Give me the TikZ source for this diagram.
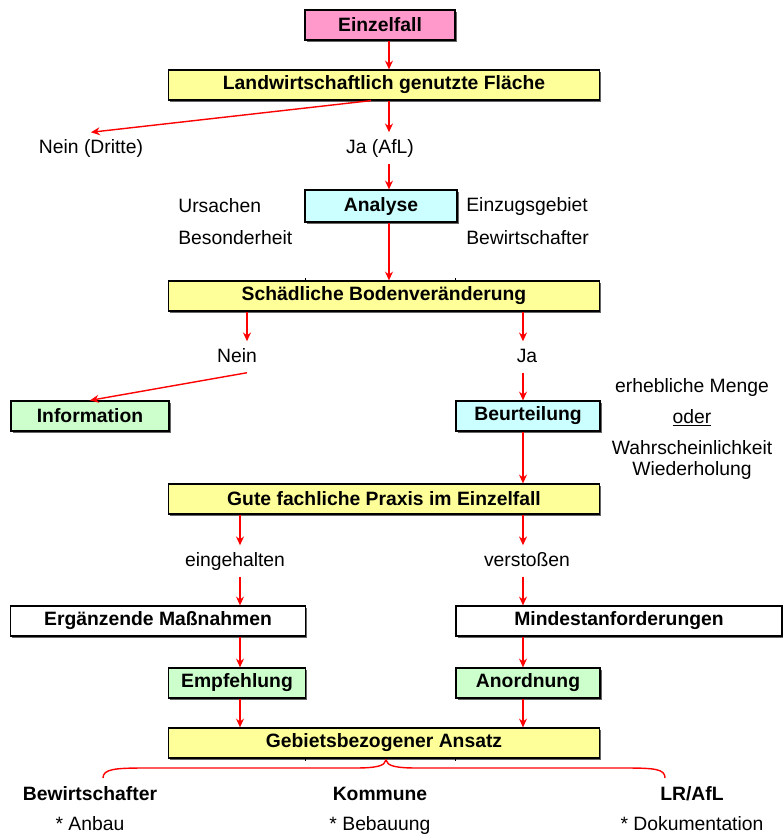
\documentclass[tikz,border=0pt]{standalone}
\usepackage{fontspec}
\setmainfont{Liberation Sans}
\usetikzlibrary{arrows.meta,positioning,shadows,calc}
\definecolor{pinkfill}{HTML}{FF99CC}
\definecolor{yellowfill}{HTML}{FFFF99}
\definecolor{cyanfill}{HTML}{CCFFFF}
\definecolor{greenfill}{HTML}{CCFFCC}

\begin{document}
\begin{tikzpicture}
[x=0.02cm, y=-0.02cm, font=\fontsize{11}{13}\selectfont,
% STYLES
% The box style is used for the steps of the procedure
box/.style={rectangle, draw, line width=0.7pt, inner sep=0pt, minimum height=0.6cm, font=\fontsize{11}{13}\selectfont\bfseries, drop shadow={shadow xshift=1pt, shadow yshift=-1pt, fill=black!60, opacity=1}},
% The txt style is used for the answers between the boxes
txt/.style={inner sep=3pt, text height=9pt, text depth=2.5pt},
% The note style is used for the remarks beside the boxes
note/.style={inner sep=0pt, anchor=west},
% The flow style is used for the red arrows
flow/.style={red, line width=0.8pt, -{Stealth[length=5pt, width=4.5pt]}}]

\useasboundingbox (0,0) rectangle (783,836);

% columns of the arrows
\coordinate (mainx) at (389,0);
\coordinate (leftx) at (247,0);
\coordinate (lowleftx) at (240,0);
\coordinate (rightx) at (523,0);

% Draw boxes
\node [box, fill=pinkfill, minimum width=3cm] (einzelfall) at (380,25) {Einzelfall};
\node [box, fill=yellowfill, minimum width=8.62cm] (flaeche) at (384,85) {Landwirtschaftlich genutzte Fläche};
\node [box, fill=cyanfill, minimum width=3.04cm, minimum height=0.64cm] (analyse) at (381,206) {Analyse};
\node [box, fill=yellowfill, minimum width=8.62cm] (bodenveraenderung) at (384,296) {Schädliche Bodenveränderung};
\node [box, fill=greenfill, minimum width=3.16cm] (information) at (90,416) {Information};
\node [box, fill=cyanfill, minimum width=2.88cm] (beurteilung) at (528,416) {Beurteilung};
\node [box, fill=yellowfill, minimum width=8.62cm] (praxis) at (384,499) {Gute fachliche Praxis im Einzelfall};
\node [box, fill=white, minimum width=5.9cm] (ergaenzende) at (158,621) {Ergänzende Maßnahmen};
\node [box, fill=white, minimum width=6.52cm] (mindest) at (619,621) {Mindestanforderungen};
\node [box, fill=greenfill, minimum width=2.74cm] (empfehlung) at (237,683) {Empfehlung};
\node [box, fill=greenfill, minimum width=2.88cm] (anordnung) at (528,683) {Anordnung};
\node [box, fill=yellowfill, minimum width=8.62cm] (ansatz) at (384,743) {Gebietsbezogener Ansatz};

% table ticks
\draw [line width=0.5pt] (bodenveraenderung.north -| 305,0) -- ++(0,-2) (bodenveraenderung.north -| 455,0) -- ++(0,-2);
\draw [line width=0.5pt] (ansatz.south -| 305,0) -- ++(0,2) (ansatz.south -| 455,0) -- ++(0,2);

% Answers
\node [txt] (nein-dritte) at (91,148) {Nein (Dritte)};
\node [txt] (ja-afl) at (380,148) {Ja (AfL)};
\node [txt] (nein) at (237,357) {Nein};
\node [txt] (ja) at (527,357) {Ja};
\node [txt] (eingehalten) at (235,561) {eingehalten};
\node [txt] (verstossen) at (527,561) {verstoßen};

% Remarks
\node [note] (ursachen) at (178,206) {Ursachen};
\node [note] (besonderheit) at (178,238) {Besonderheit};
\node [note] (einzugsgebiet) at (466,206) {Einzugsgebiet};
\node [note] (bewirtschafter-a) at (466,238) {Bewirtschafter};
\node (menge) at (692,387) {erhebliche Menge};
\node (oder) at (692,418) {\underline{oder}};
\node (wahrscheinlichkeit) at (692,448) {Wahrscheinlichkeit};
\node (wiederholung) at (692,470) {Wiederholung};

% Actors
\node [txt, font=\fontsize{11}{13}\selectfont\bfseries] (bewirtschafter) at (90,795) {Bewirtschafter};
\node [txt, font=\fontsize{11}{13}\selectfont\bfseries] (kommune) at (380,795) {Kommune};
\node [txt, font=\fontsize{11}{13}\selectfont\bfseries] (lrafl) at (692,795) {LR/AfL};
\node [txt] (anbau) at (90,825) {* Anbau};
\node [txt] (bebauung) at (380,825) {* Bebauung};
\node [txt] (dokumentation) at (692,825) {* Dokumentation};

% Draw the links between boxes
\draw [flow] (einzelfall.south -| mainx) -- (flaeche.north -| mainx);
\draw [flow] ($(flaeche.south west)!0.47!(flaeche.south east)$) -- (nein-dritte.north);
\draw [flow] (flaeche.south -| mainx) -- (ja-afl.north -| mainx);
\draw [flow] (ja-afl.south -| mainx) -- (analyse.north -| mainx);
\draw [flow] (analyse.south -| mainx) -- (bodenveraenderung.north -| mainx);
\draw [flow] (bodenveraenderung.south -| leftx) -- (nein.north -| leftx);
\draw [flow] (nein.south -| leftx) -- (information.north);
\draw [flow] (bodenveraenderung.south -| rightx) -- (ja.north -| rightx);
\draw [flow] (ja.south -| rightx) -- (beurteilung.north -| rightx);
\draw [flow] (beurteilung.south -| rightx) -- (praxis.north -| rightx);
\draw [flow] (praxis.south -| lowleftx) -- (eingehalten.north -| lowleftx);
\draw [flow] (eingehalten.south -| lowleftx) -- (ergaenzende.north -| lowleftx);
\draw [flow] (ergaenzende.south -| lowleftx) -- (empfehlung.north -| lowleftx);
\draw [flow] (empfehlung.south -| lowleftx) -- (ansatz.north -| lowleftx);
\draw [flow] (praxis.south -| rightx) -- (verstossen.north -| rightx);
\draw [flow] (verstossen.south -| rightx) -- (mindest.north -| rightx);
\draw [flow] (mindest.south -| rightx) -- (anordnung.north -| rightx);
\draw [flow] (anordnung.south -| rightx) -- (ansatz.north -| rightx);

% Brace under the last box
\coordinate (brace-left) at (103,778);
\coordinate (brace-right) at (665,778);
\coordinate (brace-tip) at (386,760);
\draw [red, line width=0.8pt] (brace-left) .. controls (103,769) and (115,768) .. (145,768) -- (355,768) .. controls (376,768) and (385,766) .. (brace-tip) .. controls (387,766) and (396,768) .. (417,768) -- (625,768) .. controls (655,768) and (665,769) .. (brace-right);

\end{tikzpicture}
\end{document}
